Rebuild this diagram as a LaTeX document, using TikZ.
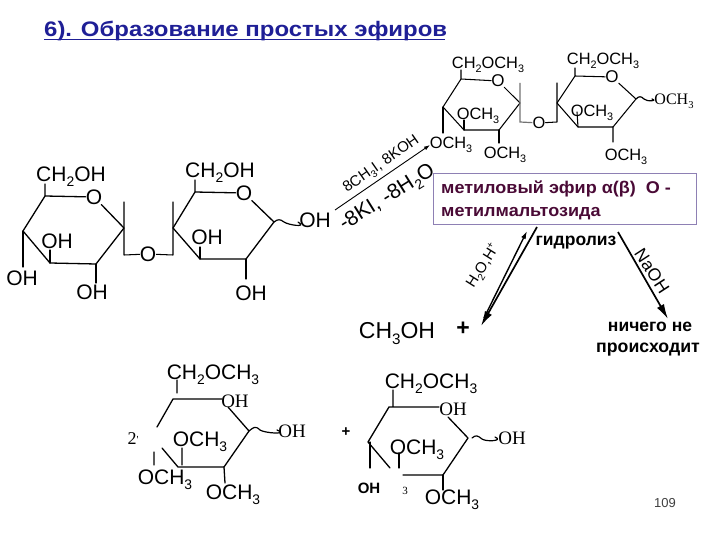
\documentclass[tikz,border=0pt]{standalone}
\usepackage{fontspec}
\setmainfont{Liberation Sans}
\newfontfamily\serifchem{Liberation Serif}
\usetikzlibrary{arrows.meta}
\definecolor{titleblue}{HTML}{1F1F96}
\definecolor{maroon}{HTML}{4A0A36}
\definecolor{boxline}{HTML}{8E80B4}
\newcommand{\sbs}[1]{\smash{\raisebox{-0.26em}{\scalebox{0.66}{#1}}}}
\newcommand{\sps}[1]{\smash{\raisebox{0.4em}{\scalebox{0.66}{#1}}}}
\newcommand{\OMe}{OCH\sbs{3}}
\tikzset{
  x=1pt,y=-1pt,
  bond/.style={line width=1.3pt,black,line cap=round,line join=round},
  thinbond/.style={line width=1.05pt,black,line cap=round,line join=round},
  greybond/.style={line width=1.2pt,black!55},
  wavyline/.style={line width=1.2pt,black,line cap=round},
  lab/.style={inner sep=0pt,font=\fontsize{#1}{#1}\selectfont,text=black},
  slab/.style={inner sep=0pt,font=\fontsize{#1}{#1}\selectfont\serifchem,text=black},
  bd/.style={inner sep=0pt,font=\fontsize{#1}{#1}\selectfont\bfseries,text=black},
  rxn/.style={line width=1.7pt,-{Latex[length=15pt,width=8pt]}},
}
\begin{document}
\begin{tikzpicture}
\useasboundingbox (0,0) rectangle (720,540);
\fill[white] (0,0) rectangle (720,540);
% title
\node[inner sep=0pt,anchor=base west,text=titleblue,font=\fontsize{21}{21}\selectfont\bfseries] (title) at (44,37) {\scalebox{1.14}[1]{6). Образование простых эфиров}};
\draw[titleblue,line width=1.8pt] (title.base west)++(0,2.5) -- (445,39.5);

% left disaccharide, first ring
\coordinate (aC5) at (45,196); \coordinate (aO) at (94,197); \coordinate (aC1) at (124,228);
\coordinate (aC2) at (96,264); \coordinate (aC3) at (50,263); \coordinate (aC4) at (23,231);
\node[lab=21] (aCH) at (71,174) {CH\sbs{2}OH};
\node[lab=21] (aOring) at (94,197) {O};
\node[lab=21] (aOH3) at (57,241) {OH};
\node[lab=21] (aOH4) at (22,278) {OH};
\node[lab=21] (aOH2) at (92,292) {OH};
\node[lab=21] (bridgeA) at (148,254) {O};
\coordinate (aCt) at (45,184); \coordinate (a3t) at (50,250); \coordinate (a4t) at (23,267); \coordinate (a2t) at (96,283);
\coordinate (aUp) at (124,202); \coordinate (aDn) at (124,255);
\draw[bond] (aCt)--(aC5)--(aOring) (aOring)--(aC1)--(aC2)--(aC3)--(aC4)--(aC5);
\draw[bond] (aC3)--(a3t) (aC4)--(a4t) (aC2)--(a2t);
\draw[thinbond] (aUp)--(aDn)--(bridgeA);
% left disaccharide, second ring
\coordinate (bC5) at (195,192); \coordinate (bO) at (244,193); \coordinate (bC1) at (274,222);
\coordinate (bC2) at (246,259); \coordinate (bC3) at (200,259); \coordinate (bC4) at (173,228);
\node[lab=21] (bCH) at (220,170) {CH\sbs{2}OH};
\node[lab=21] (bOring) at (244,193) {O};
\node[lab=21] (bOH3) at (207,237) {OH};
\node[lab=21] (bOH2) at (251,293) {OH};
\node[lab=21] (bOH1) at (315,220) {OH};
\coordinate (bCt) at (195,180); \coordinate (b3t) at (200,247); \coordinate (b2t) at (246,279); \coordinate (bw) at (298,222);
\coordinate (bUp) at (173,202); \coordinate (bDn) at (173,255);
\draw[bond] (bCt)--(bC5)--(bOring) (bOring)--(bC1)--(bC2)--(bC3)--(bC4)--(bC5);
\draw[bond] (bC3)--(b3t) (bC2)--(b2t);
\draw[thinbond] (bUp)--(bDn)--(bridgeA);
\draw[wavyline] (bC1) .. controls ++(4,-3) and ++(-4,-3) .. ++(10,0) .. controls ++(4,3) and ++(10,6) .. (bw);

% top right methylated disaccharide
\coordinate (cC5) at (461,79); \coordinate (cC1) at (520,103);
\coordinate (cC2) at (499,130); \coordinate (cC3) at (464,130); \coordinate (cC4) at (443,107);
\node[lab=16.4] (cCH) at (488,63) {CH\sbs{2}\OMe};
\node[lab=17] (cOring) at (498,81) {O};
\node[lab=16.4] (cO3) at (478,114) {\OMe};
\node[lab=16.4] (cO4) at (451,143) {\OMe};
\node[lab=16.4] (cO2) at (505,153) {\OMe};
\node[lab=16.4] (bridgeB) at (539,123) {O};
\coordinate (cCt) at (461,70); \coordinate (c3t) at (464,120); \coordinate (c4t) at (443,133); \coordinate (c2t) at (499,143);
\coordinate (cUp) at (520,83); \coordinate (cDn) at (520,122);
\draw[thinbond] (cCt)--(cC5)--(cOring) (cOring)--(cC1)--(cC2)--(cC3)--(cC4)--(cC5);
\draw[thinbond] (cC3)--(c3t) (cC4)--(c4t) (cC2)--(c2t);
\draw[greybond] (cUp)--(cDn)--(bridgeB);
\coordinate (dC5) at (575,76); \coordinate (dC1) at (636,99);
\coordinate (dC2) at (613,127); \coordinate (dC3) at (578,127); \coordinate (dC4) at (557,103);
\node[lab=16.4] (dCH) at (603,59) {CH\sbs{2}\OMe};
\node[lab=17] (dOring) at (612,77) {O};
\node[lab=16.4] (dO3) at (592,111) {\OMe};
\node[lab=16.4] (dO2) at (626,155) {\OMe};
\node[slab=16] (dO1) at (674,99) {OCH\sbs{3}};
\coordinate (dCt) at (575,68); \coordinate (d3t) at (577,112); \coordinate (d2t) at (613,142); \coordinate (dw) at (652,99);
\coordinate (dUp) at (557,83); \coordinate (dDn) at (557,122);
\draw[thinbond] (dCt)--(dC5)--(dOring) (dOring)--(dC1)--(dC2)--(dC3)--(dC4)--(dC5);
\draw[thinbond] (dC3)--(d3t) (dC2)--(d2t);
\draw[thinbond] (dUp)--(dDn)--(bridgeB);
\draw[wavyline] (dC1) .. controls ++(3,-3) and ++(-3,-3) .. ++(8,0) .. controls ++(3,3) and ++(6,2) .. (dw);

% methylation arrow
\coordinate (m0) at (335,210); \coordinate (m1) at (430,145);
\draw[line width=0.9pt,-{Latex[length=6pt,width=4pt]}] (m0) -- (m1);
\node[lab=15,rotate=35] (reag1) at (381,164) {8CH\sbs{3}I, 8KOH};
\node[lab=21,rotate=32] (reag2) at (387,197) {-8KI, -8H\sbs{2}O};

% product box
\node[draw=boxline,line width=0.9pt,fill=white,minimum width=263pt,minimum height=51pt,inner sep=0pt] (prod) at (564.5,198.5) {};
\node[bd=17,anchor=base west,text=maroon] (prodA) at (441,194) {\scalebox{1.06}[1]{метиловый эфир α(β)\ \ О -}};
\node[bd=17,anchor=base west,text=maroon] (prodB) at (441,216) {\scalebox{1.06}[1]{метилмальтозида}};

% hydrolysis arrows
\coordinate (h0) at (537,227); \coordinate (h1) at (481,326);
\coordinate (h2) at (484,318); \coordinate (h3) at (527,231);
\coordinate (n0) at (618,232); \coordinate (n1) at (668,319);
\draw[rxn] (h0) -- (h1);
\draw[line width=1.4pt,-{Latex[length=8pt,width=5pt]}] (h2) -- (h3);
\draw[rxn] (n0) -- (n1);
\node[lab=15,rotate=58] (acid) at (483,266) {H\sbs{2}O,H\sps{+}};
\node[bd=17.5] (hyd) at (576,243) {гидролиз};
\node[lab=17.5,rotate=-57] (naoh) at (652,271) {NaOH};
\node[bd=17.5] (nothA) at (650,327) {ничего не};
\node[bd=17.7] (nothB) at (648,350) {происходит};
\node[lab=23] (meoh) at (397,331) {CH\sbs{3}OH};
\node[bd=23] (plusA) at (463,329) {+};

% bottom left ring
\coordinate (eC5) at (173,399); \coordinate (eE) at (222,399); \coordinate (eF) at (228,407); \coordinate (eC1) at (249,431);
\coordinate (eC2) at (224,467); \coordinate (eC3) at (178,467); \coordinate (eG) at (162,448); \coordinate (eH) at (157,427);
\node[lab=21] (eCH) at (213,372) {CH\sbs{2}\OMe};
\node[slab=19] (eOHt) at (235,401) {OH};
\node[lab=21] (eO3) at (200,439) {\OMe};
\node[lab=21] (eO4) at (165,477) {\OMe};
\node[lab=21] (eO2) at (233,492) {\OMe};
\node[slab=19] (eOH1) at (292,431) {OH};
\node[slab=18] (two) at (133,439) {2\raisebox{1pt}{\scalebox{0.6}{'}}};
\coordinate (eCt) at (177,380); \coordinate (eCb) at (177,393);
\coordinate (e3a) at (182,448); \coordinate (e3b) at (182,465);
\coordinate (e4a) at (154,452); \coordinate (e4b) at (154,465);
\coordinate (e2b) at (225,483); \coordinate (ew) at (277,430);
\draw[bond] (eCt)--(eCb) (eH)--(eC5)--(eE) (eF)--(eC1)--(eC2)--(eC3)--(eG);
\draw[bond] (e3a)--(e3b) (e4a)--(e4b) (eC2)--(e2b);
\draw[wavyline] (eC1) .. controls ++(4,-3) and ++(-5,-5) .. ++(11,-1) .. controls ++(4,3) and ++(12,5) .. (ew);
\node[bd=15] (plusB) at (346,432) {+};

% bottom right ring
\coordinate (fC5) at (389,407); \coordinate (fE) at (439,407); \coordinate (fF) at (448,417); \coordinate (fC1) at (468,438);
\coordinate (fC2) at (443,475); \coordinate (fC3) at (403,475); \coordinate (fG) at (390,468); \coordinate (fC4) at (368,442);
\node[lab=21] (fCH) at (431,381) {CH\sbs{2}\OMe};
\node[slab=19] (fOHt) at (453,409) {OH};
\node[lab=21] (fO3) at (417,447) {\OMe};
\node[slab=19] (fOH1) at (512,438) {OH};
\node[lab=21] (fO2) at (452,497) {\OMe};
\node[bd=15] (fOH4) at (369,488) {OH};
\node[slab=11] (fthree) at (405,491) {3};
\coordinate (fCt) at (393,390); \coordinate (fCb) at (393,407);
\coordinate (f3a) at (399,453); \coordinate (f3b) at (399,468);
\coordinate (f4a) at (370,442); \coordinate (f4b) at (370,468);
\coordinate (f2b) at (443,490); \coordinate (fw) at (495,437); \coordinate (fwa) at (472,438);
\draw[bond] (fCt)--(fCb) (fE)--(fC5)--(fC4)--(fG) (fF)--(fC1)--(fC2)--(fC3);
\draw[bond] (f3a)--(f3b) (f4a)--(f4b) (fC2)--(f2b);
\draw[wavyline] (fwa) .. controls ++(4,-3) and ++(-5,-4) .. ++(10,1) .. controls ++(4,3) and ++(9,4) .. (fw);

\node[lab=13,text=black!75] (page) at (665,503) {109};
\end{tikzpicture}
\end{document}
